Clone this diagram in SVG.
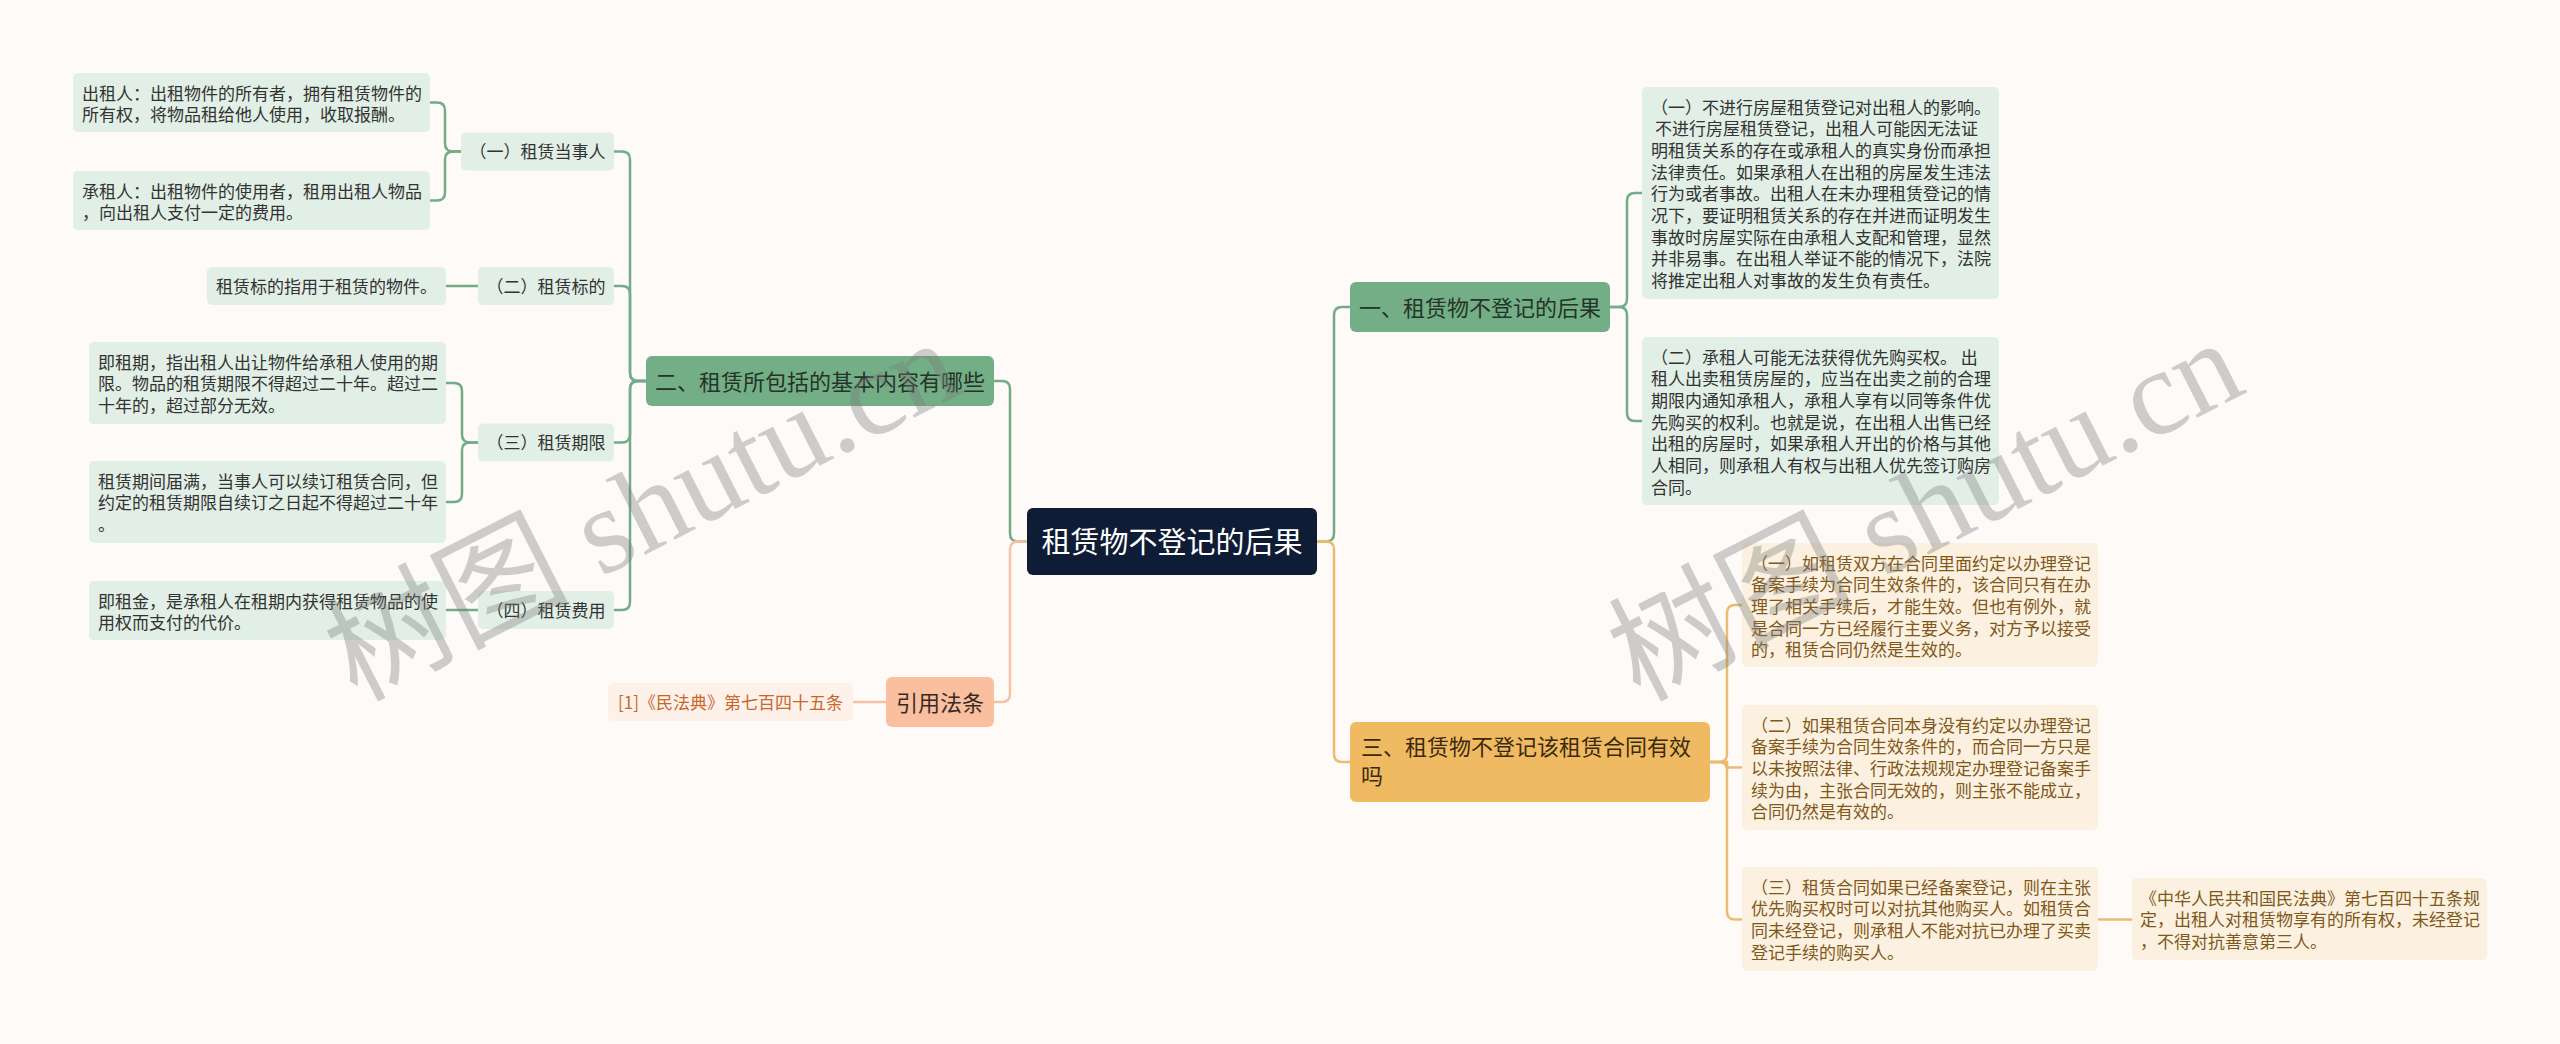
<svg xmlns="http://www.w3.org/2000/svg" width="2560" height="1044" viewBox="0 0 2560 1044">
<style>
text{font-family:"Noto Sans CJK SC","Noto Sans",sans-serif;}
.cg{fill:none;stroke:#73AC88;stroke-width:2.5;}
.co{fill:none;stroke:#EABD6E;stroke-width:2.5;}
.cp{fill:none;stroke:#F6C2A4;stroke-width:2.5;}
.lg{fill:#E1EFE6;}
.lo{fill:#FCF1E0;}
.t17{font-size:17px;fill:#333333;}
.tb{font-size:17px;fill:#80581A;}
.mid{text-anchor:middle;}
.wm{font-family:"Liberation Serif","Noto Sans CJK SC",serif;font-size:122px;fill:#7A7A7A;fill-opacity:0.36;}
</style>
<rect width="2560" height="1044" fill="#FDFAF8"/>

<g id="connectors">
  <path class="cg" d="M1027,541.5 H1018 Q1010,541.5 1010,533.5 V389 Q1010,381 1002,381 H994"/>
  <path class="cp" d="M1027,541.5 H1018 Q1010,541.5 1010,549.5 V694 Q1010,702 1002,702 H994"/>
  <path class="cp" d="M886,702 H853"/>
  <path class="cg" d="M646,381 H638 Q630,381 630,373 V159.5 Q630,151.5 622,151.5 H614"/>
  <path class="cg" d="M646,381 H638 Q630,381 630,373 V294 Q630,286 622,286 H614"/>
  <path class="cg" d="M646,381 H638 Q630,381 630,389 V434.5 Q630,442.5 622,442.5 H614"/>
  <path class="cg" d="M646,381 H638 Q630,381 630,389 V602 Q630,610 622,610 H614"/>
  <path class="cg" d="M461,151.5 H453 Q445,151.5 445,143.5 V110.5 Q445,102.5 437,102.5 H428"/>
  <path class="cg" d="M461,151.5 H453 Q445,151.5 445,159.5 V192.5 Q445,200.5 437,200.5 H428"/>
  <path class="cg" d="M478,286 H446"/>
  <path class="cg" d="M478,442.5 H470 Q462,442.5 462,434.5 V391 Q462,383 454,383 H446"/>
  <path class="cg" d="M478,442.5 H470 Q462,442.5 462,450.5 V494 Q462,502 454,502 H446"/>
  <path class="cg" d="M478,610 H446"/>
  <path class="cg" d="M1317,541.5 H1326 Q1334,541.5 1334,533.5 V315 Q1334,307 1342,307 H1350"/>
  <path class="co" d="M1317,541.5 H1326 Q1334,541.5 1334,549.5 V754 Q1334,762 1342,762 H1350"/>
  <path class="cg" d="M1610,307 H1619 Q1627,307 1627,299 V201 Q1627,193 1635,193 H1642"/>
  <path class="cg" d="M1610,307 H1619 Q1627,307 1627,315 V413 Q1627,421 1635,421 H1642"/>
  <path class="co" d="M1710,762 H1719 Q1727,762 1727,754 V613 Q1727,605 1735,605 H1742"/>
  <path class="co" d="M1710,762 H1727 V767.5 H1742"/>
  <path class="co" d="M1710,762 H1719 Q1727,762 1727,770 V911.5 Q1727,919.5 1735,919.5 H1742"/>
  <path class="co" d="M2098,919.5 H2132"/>
</g>

<g id="root">
  <rect x="1027" y="508" width="290" height="67" rx="6" fill="#0E1C35"/>
  <text x="1172" y="552.5" class="mid" font-size="29" fill="#FFFFFF">租赁物不登记的后果</text>
</g>

<g id="node-er">
  <rect x="646" y="356" width="348" height="50" rx="6" fill="#73AE86"/>
  <text x="820" y="389.5" class="mid" font-size="22" fill="#253428">二、租赁所包括的基本内容有哪些</text>
</g>

<g id="node-yi-1">
  <rect x="461" y="132.5" width="153" height="38" rx="5" class="lg"/>
  <text x="537.5" y="158" class="t17 mid">（一）租赁当事人</text>
</g>
<g id="node-yi-2">
  <rect x="478" y="267" width="136" height="38" rx="5" class="lg"/>
  <text x="546" y="292.5" class="t17 mid">（二）租赁标的</text>
</g>
<g id="node-yi-3">
  <rect x="478" y="423.5" width="136" height="38" rx="5" class="lg"/>
  <text x="546" y="449" class="t17 mid">（三）租赁期限</text>
</g>
<g id="node-yi-4">
  <rect x="478" y="591" width="136" height="38" rx="5" class="lg"/>
  <text x="546" y="616.5" class="t17 mid">（四）租赁费用</text>
</g>

<g id="leaf-chuzuren">
  <rect x="73" y="73" width="357" height="59" rx="5" class="lg"/>
  <text class="t17"><tspan x="82" y="99.5">出租人：出租物件的所有者，拥有租赁物件的</tspan><tspan x="82" y="121.2">所有权，将物品租给他人使用，收取报酬。</tspan></text>
</g>
<g id="leaf-chengzuren">
  <rect x="73" y="171" width="357" height="59" rx="5" class="lg"/>
  <text class="t17"><tspan x="82" y="197.5">承租人：出租物件的使用者，租用出租人物品</tspan><tspan x="82" y="219.2">，向出租人支付一定的费用。</tspan></text>
</g>
<g id="leaf-biaodi">
  <rect x="207" y="267" width="239" height="38" rx="5" class="lg"/>
  <text x="216" y="292.5" class="t17">租赁标的指用于租赁的物件。</text>
</g>
<g id="leaf-zuqi">
  <rect x="89" y="342" width="357" height="82" rx="5" class="lg"/>
  <text class="t17"><tspan x="98" y="368.5">即租期，指出租人出让物件给承租人使用的期</tspan><tspan x="98" y="390.2">限。物品的租赁期限不得超过二十年。超过二</tspan><tspan x="98" y="411.9">十年的，超过部分无效。</tspan></text>
</g>
<g id="leaf-xuding">
  <rect x="89" y="461" width="357" height="82" rx="5" class="lg"/>
  <text class="t17"><tspan x="98" y="487.5">租赁期间届满，当事人可以续订租赁合同，但</tspan><tspan x="98" y="509.2">约定的租赁期限自续订之日起不得超过二十年</tspan><tspan x="98" y="530.9">。</tspan></text>
</g>
<g id="leaf-zujin">
  <rect x="89" y="581" width="357" height="59" rx="5" class="lg"/>
  <text class="t17"><tspan x="98" y="607.5">即租金，是承租人在租期内获得租赁物品的使</tspan><tspan x="98" y="629.2">用权而支付的代价。</tspan></text>
</g>

<g id="node-yinyong">
  <rect x="886" y="677" width="108" height="50" rx="6" fill="#F9BF9F"/>
  <text x="940" y="710.5" class="mid" font-size="22" fill="#3A2B22">引用法条</text>
</g>
<g id="leaf-minfadian">
  <rect x="608" y="683" width="245" height="38" rx="5" fill="#FDF1E9"/>
  <text x="618" y="708.5" font-size="17" fill="#C8672C">[1]《民法典》第七百四十五条</text>
</g>

<g id="node-yi">
  <rect x="1350" y="282" width="260" height="50" rx="6" fill="#73AE86"/>
  <text x="1480" y="315.5" class="mid" font-size="22" fill="#253428">一、租赁物不登记的后果</text>
</g>
<g id="leaf-a">
  <rect x="1642" y="87" width="357" height="212" rx="5" class="lg"/>
  <text class="t17"><tspan x="1651" y="113.5">（一）不进行房屋租赁登记对出租人的影响。</tspan><tspan x="1655" y="135.2">不进行房屋租赁登记，出租人可能因无法证</tspan><tspan x="1651" y="156.9">明租赁关系的存在或承租人的真实身份而承担</tspan><tspan x="1651" y="178.6">法律责任。如果承租人在出租的房屋发生违法</tspan><tspan x="1651" y="200.3">行为或者事故。出租人在未办理租赁登记的情</tspan><tspan x="1651" y="222">况下，要证明租赁关系的存在并进而证明发生</tspan><tspan x="1651" y="243.7">事故时房屋实际在由承租人支配和管理，显然</tspan><tspan x="1651" y="265.4">并非易事。在出租人举证不能的情况下，法院</tspan><tspan x="1651" y="287.1">将推定出租人对事故的发生负有责任。</tspan></text>
</g>
<g id="leaf-b">
  <rect x="1642" y="337" width="357" height="168" rx="5" class="lg"/>
  <text class="t17"><tspan x="1651" y="363.5">（二）承租人可能无法获得优先购买权。 出</tspan><tspan x="1651" y="385.2">租人出卖租赁房屋的，应当在出卖之前的合理</tspan><tspan x="1651" y="406.9">期限内通知承租人，承租人享有以同等条件优</tspan><tspan x="1651" y="428.6">先购买的权利。也就是说，在出租人出售已经</tspan><tspan x="1651" y="450.3">出租的房屋时，如果承租人开出的价格与其他</tspan><tspan x="1651" y="472">人相同，则承租人有权与出租人优先签订购房</tspan><tspan x="1651" y="493.7">合同。</tspan></text>
</g>

<g id="node-san">
  <rect x="1350" y="722" width="360" height="80" rx="6" fill="#F0BA62"/>
  <text font-size="22" fill="#3B2A10"><tspan x="1361" y="755">三、租赁物不登记该租赁合同有效</tspan><tspan x="1361" y="784">吗</tspan></text>
</g>
<g id="leaf-c1">
  <rect x="1742" y="543" width="356" height="124" rx="5" class="lo"/>
  <text class="tb"><tspan x="1751" y="569.5">（一）如租赁双方在合同里面约定以办理登记</tspan><tspan x="1751" y="591.2">备案手续为合同生效条件的，该合同只有在办</tspan><tspan x="1751" y="612.9">理了相关手续后，才能生效。但也有例外，就</tspan><tspan x="1751" y="634.6">是合同一方已经履行主要义务，对方予以接受</tspan><tspan x="1751" y="656.3">的，租赁合同仍然是生效的。</tspan></text>
</g>
<g id="leaf-c2">
  <rect x="1742" y="705" width="356" height="125" rx="5" class="lo"/>
  <text class="tb"><tspan x="1751" y="731.5">（二）如果租赁合同本身没有约定以办理登记</tspan><tspan x="1751" y="753.2">备案手续为合同生效条件的，而合同一方只是</tspan><tspan x="1751" y="774.9">以未按照法律、行政法规规定办理登记备案手</tspan><tspan x="1751" y="796.6">续为由，主张合同无效的，则主张不能成立，</tspan><tspan x="1751" y="818.3">合同仍然是有效的。</tspan></text>
</g>
<g id="leaf-c3">
  <rect x="1742" y="867" width="356" height="104" rx="5" class="lo"/>
  <text class="tb"><tspan x="1751" y="893.5">（三）租赁合同如果已经备案登记，则在主张</tspan><tspan x="1751" y="915.2">优先购买权时可以对抗其他购买人。如租赁合</tspan><tspan x="1751" y="936.9">同未经登记，则承租人不能对抗已办理了买卖</tspan><tspan x="1751" y="958.6">登记手续的购买人。</tspan></text>
</g>
<g id="leaf-d">
  <rect x="2132" y="878" width="355" height="82" rx="5" class="lo"/>
  <text class="tb"><tspan x="2140" y="904.5">《中华人民共和国民法典》第七百四十五条规</tspan><tspan x="2140" y="926.2">定，出租人对租赁物享有的所有权，未经登记</tspan><tspan x="2140" y="947.9">，不得对抗善意第三人。</tspan></text>
</g>

<g id="watermark">
  <text class="wm" transform="translate(356,702) rotate(-27)">树图 shutu.cn</text>
  <text class="wm" transform="translate(1639,702) rotate(-27)">树图 shutu.cn</text>
</g>
</svg>
